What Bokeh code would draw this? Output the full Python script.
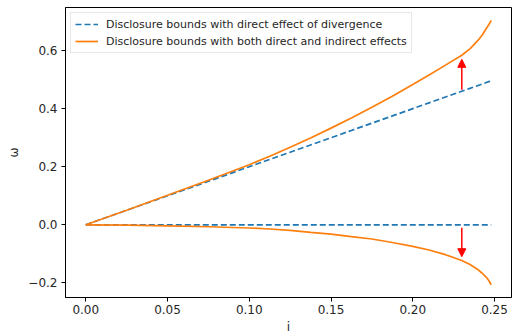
from bokeh.plotting import figure
from bokeh.models import FixedTicker, Range1d, Legend, LegendItem, Arrow, NormalHead
from bokeh.embed import file_html
from bokeh.resources import INLINE

# data
i_vals = [0.0, 0.025, 0.05, 0.075, 0.1, 0.1125, 0.125, 0.1375, 0.15, 0.1625, 0.175, 0.1875,
          0.2, 0.21, 0.22, 0.23, 0.235, 0.24, 0.2425, 0.245, 0.2465, 0.248]
direct_upper = [0.0, 0.05, 0.1, 0.15, 0.2, 0.225, 0.25, 0.275, 0.3, 0.325, 0.35, 0.375,
                0.4, 0.42, 0.44, 0.46, 0.47, 0.48, 0.485, 0.49, 0.493, 0.496]
direct_lower = [0.0] * len(i_vals)
both_upper = [0.0, 0.0503, 0.1015, 0.1535, 0.207, 0.236, 0.267, 0.299, 0.333, 0.368, 0.405, 0.443,
              0.483, 0.516, 0.55, 0.584, 0.606, 0.636, 0.654, 0.676, 0.689, 0.704]
both_lower = [0.0, -0.0012, -0.0035, -0.0068, -0.011, -0.0145, -0.0195, -0.026, -0.032, -0.041, -0.049, -0.061,
              -0.0745, -0.087, -0.103, -0.123, -0.137, -0.155, -0.167, -0.181, -0.192, -0.207]
arrow_i = 0.23
arrow_up = (0.465, 0.57)
arrow_down = (-0.01, -0.11)

x_ticks = [0.0, 0.05, 0.1, 0.15, 0.2, 0.25]
y_ticks = [-0.2, 0.0, 0.2, 0.4, 0.6]
x_labels = {0.0: "0.00", 0.05: "0.05", 0.1: "0.10", 0.15: "0.15", 0.2: "0.20", 0.25: "0.25"}
y_labels = {-0.2: "\u22120.2", 0.0: "0.0", 0.2: "0.2", 0.4: "0.4", 0.6: "0.6"}

BLUE = "#1f77b4"
ORANGE = "#ff7f0e"
FONT = "DejaVu Sans"

p = figure(width=512, height=336, output_backend="svg", toolbar_location=None,
           x_range=Range1d(-0.0124, 0.2604), y_range=Range1d(-0.2505, 0.7485))
p.min_border_left = 65
p.min_border_right = 1
p.min_border_top = 7
p.min_border_bottom = 38
p.outline_line_color = "black"
p.outline_line_width = 1
p.xgrid.visible = False
p.ygrid.visible = False
p.background_fill_color = "white"
p.border_fill_color = "white"

for ax in (p.xaxis[0], p.yaxis[0]):
    ax.major_tick_out = 4
    ax.major_tick_in = 0
    ax.minor_tick_out = 0
    ax.minor_tick_in = 0
    ax.axis_line_color = "black"
    ax.major_label_text_font = FONT
    ax.major_label_text_font_size = "12px"
    ax.major_label_text_color = "#262626"
    ax.axis_label_text_font = FONT
    ax.axis_label_text_font_size = "12px"
    ax.axis_label_text_font_style = "normal"
    ax.axis_label_text_color = "#262626"

p.xaxis.ticker = FixedTicker(ticks=x_ticks)
p.yaxis.ticker = FixedTicker(ticks=y_ticks)
p.xaxis.major_label_overrides = x_labels
p.yaxis.major_label_overrides = y_labels
p.xaxis.axis_label = "i"
p.yaxis.axis_label = "\u03c9"
p.xaxis.major_label_standoff = 3
p.yaxis.major_label_standoff = 4
p.xaxis.axis_label_standoff = 3
p.yaxis.axis_label_standoff = 4

r1 = p.line(i_vals, direct_upper, color=BLUE, line_width=1.7, line_dash="6 3")
p.line(i_vals, direct_lower, color=BLUE, line_width=1.7, line_dash="6 3")
r2 = p.line(i_vals, both_upper, color=ORANGE, line_width=1.7)
p.line(i_vals, both_lower, color=ORANGE, line_width=1.7)

for (y0, y1) in (arrow_up, arrow_down):
    p.add_layout(Arrow(end=NormalHead(size=8, fill_color="red", line_color="red", line_width=1),
                       x_start=arrow_i, y_start=y0, x_end=arrow_i, y_end=y1,
                       line_color="red", line_width=1.5))

legend = Legend(items=[
    LegendItem(label="Disclosure bounds with direct effect of divergence", renderers=[r1]),
    LegendItem(label="Disclosure bounds with both direct and indirect effects", renderers=[r2]),
], location="top_left")
legend.margin = 5
legend.padding = 4
legend.spacing = 3
legend.glyph_height = 14
legend.label_height = 14
legend.glyph_width = 23
legend.label_standoff = 8
legend.label_text_font = FONT
legend.label_text_font_size = "11px"
legend.label_text_color = "#262626"
legend.border_line_color = "#d0d0d0"
legend.border_line_width = 1
legend.background_fill_alpha = 0.8
p.add_layout(legend)

open("out.html", "w").write(file_html(p, INLINE))
